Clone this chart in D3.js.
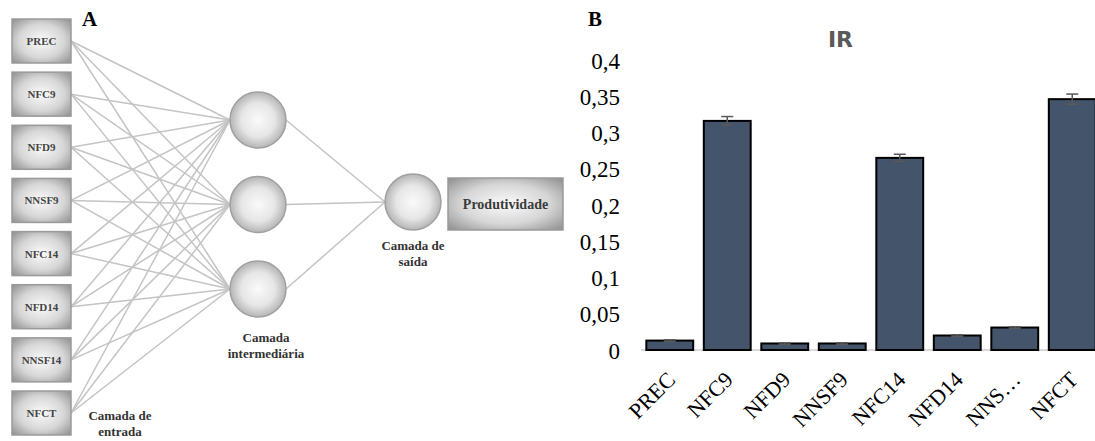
<!DOCTYPE html>
<html><head><meta charset="utf-8">
<script src="https://cdn.jsdelivr.net/npm/d3@7"></script>
<style>html,body{margin:0;padding:0;background:#fff;}svg{display:block;}</style>
</head><body>
<svg id="c" width="1095" height="441"></svg>
<script>
// ---- Data ----
const inputLabels = ["PREC","NFC9","NFD9","NNSF9","NFC14","NFD14","NNSF14","NFCT"];
const hiddenNodes = ["h1","h2","h3"];
const outputLabel = "Produtividade";
const categories = ["PREC","NFC9","NFD9","NNSF9","NFC14","NFD14","NNSF14","NFCT"];
const tickLabelsX = ["PREC","NFC9","NFD9","NNSF9","NFC14","NFD14","NNS…","NFCT"];
const irValues = [0.013, 0.316, 0.009, 0.009, 0.265, 0.020, 0.031, 0.346];
const irErrors = [0.001, 0.006, 0.001, 0.001, 0.005, 0.001, 0.001, 0.007];
const yTicks = [0, 0.05, 0.1, 0.15, 0.2, 0.25, 0.3, 0.35, 0.4];
const yTickLabels = ["0","0,05","0,1","0,15","0,2","0,25","0,3","0,35","0,4"];

const SERIF = "'Liberation Serif','Times New Roman',serif";
const svg = d3.select("#c");
const defs = svg.append("defs");
const bg = defs.append("radialGradient").attr("id","boxg").attr("cx","50%").attr("cy","50%").attr("r","70%");
bg.append("stop").attr("offset","0%").attr("stop-color","#fbfbfb");
bg.append("stop").attr("offset","55%").attr("stop-color","#d6d6d6");
bg.append("stop").attr("offset","100%").attr("stop-color","#8e8e8e");
const cg = defs.append("radialGradient").attr("id","circg").attr("cx","50%").attr("cy","50%").attr("r","50%");
cg.append("stop").attr("offset","0%").attr("stop-color","#fafafa");
cg.append("stop").attr("offset","60%").attr("stop-color","#e6e6e6");
cg.append("stop").attr("offset","100%").attr("stop-color","#b5b5b5");

// ---- Panel A: network diagram ----
const A = svg.append("g");
const yIn = d3.scalePoint().domain(inputLabels).range([41, 413]);
const yHid = d3.scalePoint().domain(hiddenNodes).range([120, 289]);
const boxX = 12, boxW = 59, boxH = 44;
const hidX = 258, r = 28;
const outX = 413, outY = 202;

const links = [];
inputLabels.forEach(i => hiddenNodes.forEach(h => links.push({x1: boxX+boxW, y1: yIn(i), x2: hidX - r, y2: yHid(h)})));
hiddenNodes.forEach(h => links.push({x1: hidX + r, y1: yHid(h), x2: outX - r, y2: outY}));
A.selectAll("line.link").data(links).join("line").attr("class","link")
  .attr("x1",d=>d.x1).attr("y1",d=>d.y1).attr("x2",d=>d.x2).attr("y2",d=>d.y2)
  .attr("stroke","#c4c4c4").attr("stroke-width",1.5);

const boxes = A.selectAll("g.box").data(inputLabels).join("g").attr("class","box")
  .attr("transform", d => `translate(${boxX},${yIn(d)-boxH/2})`);
boxes.append("rect").attr("width",boxW).attr("height",boxH)
  .attr("fill","url(#boxg)").attr("stroke","#9a9a9a").attr("stroke-width",1.5);
boxes.append("text").attr("x",boxW/2).attr("y",boxH/2+4)
  .attr("text-anchor","middle").style("font-family",SERIF).style("font-weight","bold")
  .style("font-size","11px").attr("fill","#444").text(d=>d);

A.selectAll("circle.hid").data(hiddenNodes).join("circle").attr("class","hid")
  .attr("cx",hidX).attr("cy",d=>yHid(d)).attr("r",r)
  .attr("fill","url(#circg)").attr("stroke","#a0a0a0").attr("stroke-width",1.5);
A.append("circle").attr("cx",outX).attr("cy",outY).attr("r",r)
  .attr("fill","url(#circg)").attr("stroke","#a0a0a0").attr("stroke-width",1.5);

A.append("rect").attr("x",448).attr("y",178).attr("width",115).attr("height",52)
  .attr("fill","url(#boxg)").attr("stroke","#9a9a9a").attr("stroke-width",1.5);
A.append("text").attr("x",505.5).attr("y",209).attr("text-anchor","middle")
  .style("font-family",SERIF).style("font-weight","bold").style("font-size","14px")
  .attr("fill","#3a3a3a").text(outputLabel);

function label2(x, y, lines) {
  const t = A.append("text").attr("text-anchor","middle").style("font-family",SERIF)
    .style("font-weight","bold").style("font-size","13px").attr("fill","#333");
  lines.forEach((l,i)=> t.append("tspan").attr("x",x).attr("y",y+i*16).text(l));
}
label2(120, 420, ["Camada de","entrada"]);
label2(266, 342, ["Camada","intermediária"]);
label2(413, 250, ["Camada de","saída"]);

svg.append("text").attr("x",82).attr("y",26).style("font-family",SERIF)
  .style("font-weight","bold").style("font-size","21px").attr("fill","#000").text("A");

// ---- Panel B: bar chart ----
svg.append("text").attr("x",588).attr("y",26).style("font-family",SERIF)
  .style("font-weight","bold").style("font-size","21px").attr("fill","#000").text("B");

const x = d3.scaleBand().domain(categories).range([641, 1101]).paddingInner(0.15).paddingOuter(0.075);
const y = d3.scaleLinear().domain([0, 0.4]).range([350, 60]);

svg.append("text").attr("x",840.5).attr("y",47).attr("text-anchor","middle")
  .style("font-family","'DejaVu Sans',sans-serif").style("font-weight","bold").style("font-size","22px")
  .attr("fill","#595959").text("IR");

const yAxis = d3.axisLeft(y).tickValues(yTicks).tickSize(0).tickPadding(0)
  .tickFormat((d,i)=>yTickLabels[i]);
const ya = svg.append("g").attr("transform","translate(620,0)").call(yAxis);
ya.select(".domain").remove();
ya.selectAll("text").style("font-family",SERIF).style("font-size","23px").attr("fill","#000").attr("dy","0.35em");

svg.append("line").attr("x1",641).attr("x2",1095).attr("y1",y(0)).attr("y2",y(0))
  .attr("stroke","#d9d9d9").attr("stroke-width",2);

const bars = svg.append("g");
bars.selectAll("rect").data(categories).join("rect")
  .attr("x",d=>x(d)+1).attr("width",x.bandwidth()-2)
  .attr("y",(d,i)=>y(irValues[i])).attr("height",(d,i)=>y(0)-y(irValues[i]))
  .attr("fill","#44546A").attr("stroke","#000").attr("stroke-width",2);

const eb = svg.append("g").attr("stroke","#595959").attr("stroke-width",1.5);
categories.forEach((c,i)=>{
  const cx = x(c)+x.bandwidth()/2;
  const y1 = y(irValues[i]+irErrors[i]), y2 = y(irValues[i]-irErrors[i]);
  eb.append("line").attr("x1",cx).attr("x2",cx).attr("y1",y1).attr("y2",y2);
  eb.append("line").attr("x1",cx-6).attr("x2",cx+6).attr("y1",y1).attr("y2",y1);
  eb.append("line").attr("x1",cx-6).attr("x2",cx+6).attr("y1",y2).attr("y2",y2);
});

// x labels rotated -45°
const xa = svg.append("g");
xa.selectAll("g.xl").data(categories).join("g").attr("class","xl")
  .attr("transform", d => `translate(${x(d)+x.bandwidth()/2+7},381) rotate(-45)`)
  .append("text").attr("text-anchor","end")
  .style("font-family",SERIF).style("font-size","22px").attr("fill","#000")
  .text((d,i)=>tickLabelsX[i]);
</script>
</body></html>
